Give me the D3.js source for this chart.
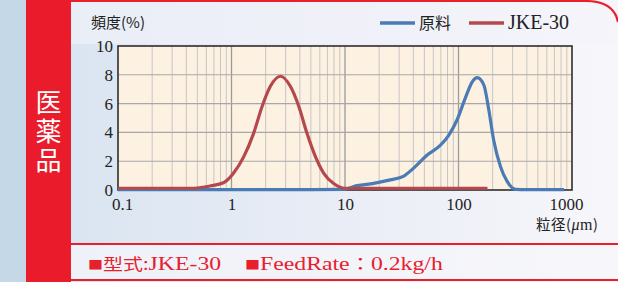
<!DOCTYPE html>
<html>
<head>
<meta charset="utf-8">
<script src="https://cdn.jsdelivr.net/npm/d3@7"></script>
<style>
html,body{margin:0;padding:0;background:#fff;}
svg{display:block;}
</style>
</head>
<body>
<svg id="chart" width="618" height="282"></svg>
<script>
// data (size in um, frequency in %)
var rawX   = [0.1, 0.5, 1, 5, 9.8, 12.8, 17.9, 25, 33, 40, 53, 69, 82, 97, 115, 132, 146, 167, 185, 204, 235, 269, 318, 400, 850];
var rawY   = [0.03, 0.03, 0.03, 0.03, 0.05, 0.3, 0.46, 0.7, 0.97, 1.5, 2.43, 3.1, 3.8, 4.86, 6.4, 7.5, 7.8, 7.3, 5.56, 3.47, 1.6, 0.58, 0.05, 0.03, 0.03];
var jkeX   = [0.1, 0.3, 0.435, 0.65, 0.85, 1.04, 1.28, 1.56, 1.86, 2.2, 2.7, 3.3, 3.92, 4.64, 5.5, 6.5, 7.95, 10, 20, 60, 180];
var jkeY   = [0.12, 0.12, 0.12, 0.28, 0.5, 1.16, 2.3, 3.9, 5.8, 7.2, 7.9, 7.2, 5.8, 3.9, 2.3, 1.16, 0.45, 0.12, 0.12, 0.12, 0.12];
var xTicks = [0.1, 1, 10, 100, 1000];
var yTicks = [0, 2, 4, 6, 8, 10];
var seriesNames = ["原料", "JKE-30"];
var seriesColors = ["#4a7bb4", "#b5484c"];

var svg = d3.select("#chart");
var W = 618, H = 282;
var serif = "'Liberation Serif','DejaVu Serif',serif";
var cjk = "'Noto Sans CJK JP','Noto Sans CJK SC',sans-serif";

var defs = svg.append("defs");
var g1 = defs.append("linearGradient").attr("id","bg").attr("x1","0").attr("x2","1").attr("y1","0").attr("y2","0");
g1.append("stop").attr("offset","0").attr("stop-color","#dae5f1");
g1.append("stop").attr("offset","0.5").attr("stop-color","#eaedf6");
g1.append("stop").attr("offset","1").attr("stop-color","#f7f7fb");
var g2 = defs.append("linearGradient").attr("id","side").attr("x1","0").attr("x2","1").attr("y1","0").attr("y2","0");
g2.append("stop").attr("offset","0").attr("stop-color","#c4d8e7");
g2.append("stop").attr("offset","1").attr("stop-color","#b6cbdc");

// outer background
svg.append("rect").attr("width",W).attr("height",H).attr("fill","url(#side)");
svg.append("rect").attr("x",71).attr("width",W-71).attr("height",H).attr("fill","url(#bg)");
svg.append("rect").attr("x",71).attr("y",2).attr("width",W-71).attr("height",42).attr("fill","#f4f4fa").attr("opacity",0.6);

// red top border with rounded corner
svg.append("path")
  .attr("d","M71,1 L585,1 Q614,1 618,22")
  .attr("fill","none").attr("stroke","#e8202c").attr("stroke-width",2.2);

// red sidebar with vertical label
svg.append("rect").attr("x",26).attr("y",0).attr("width",45).attr("height",H).attr("fill","#ea1c2b");
svg.append("text")
  .attr("x",48.5).attr("y",89)
  .attr("writing-mode","vertical-rl")
  .attr("letter-spacing",3)
  .attr("fill","#fff").attr("font-size",26).attr("font-family",cjk)
  .text("医薬品");

// plot
var m = {l:118, r:572, t:46, b:190};
var x = d3.scaleLog().domain([0.1,1000]).range([m.l,m.r]);
var y = d3.scaleLinear().domain([0,10]).range([m.b,m.t]);

svg.append("rect").attr("x",m.l).attr("y",m.t).attr("width",m.r-m.l).attr("height",m.b-m.t).attr("fill","#fdf1e2");

// grid
var minors = [];
[0.1,1,10,100].forEach(function(d){ for (var k=2;k<=9;k++) minors.push(d*k); });
svg.selectAll("line.vmin").data(minors).enter().append("line")
  .attr("class","vmin")
  .attr("x1",function(d){return x(d);}).attr("x2",function(d){return x(d);})
  .attr("y1",m.t).attr("y2",m.b)
  .attr("stroke","#c6c6c6").attr("stroke-width",1);
svg.selectAll("line.vmaj").data([1,10,100]).enter().append("line")
  .attr("class","vmaj")
  .attr("x1",function(d){return x(d);}).attr("x2",function(d){return x(d);})
  .attr("y1",m.t).attr("y2",m.b)
  .attr("stroke","#9a9a9a").attr("stroke-width",1.3);
svg.selectAll("line.hgrid").data([2,4,6,8]).enter().append("line")
  .attr("class","hgrid")
  .attr("x1",m.l).attr("x2",m.r)
  .attr("y1",function(d){return y(d);}).attr("y2",function(d){return y(d);})
  .attr("stroke","#a8a8a8").attr("stroke-width",1.1);

// frame
svg.append("rect").attr("x",m.l).attr("y",m.t).attr("width",m.r-m.l).attr("height",m.b-m.t)
  .attr("fill","none").attr("stroke","#2e2e2e").attr("stroke-width",1.6);

// axes
var xAxis = svg.append("g").attr("transform","translate(0,"+m.b+")")
  .call(d3.axisBottom(x).tickValues(xTicks).tickSize(0).tickPadding(8).tickFormat(function(d){ return String(d); }));
xAxis.select(".domain").remove();
xAxis.selectAll("text").attr("font-family",serif).attr("font-size",17).attr("fill","#222")
  .attr("dx",function(d){ return d==0.1 ? 4 : (d==1000 ? -6 : 0); });

var yAxis = svg.append("g").attr("transform","translate("+m.l+",0)")
  .call(d3.axisLeft(y).tickValues(yTicks).tickSize(0).tickPadding(5));
yAxis.select(".domain").remove();
yAxis.selectAll("text").attr("font-family",serif).attr("font-size",17).attr("fill","#222");

// lines
var line = d3.line().x(function(d){return x(d[0]);}).y(function(d){return y(d[1]);}).curve(d3.curveMonotoneX);
var series = [d3.zip(rawX, rawY), d3.zip(jkeX, jkeY)];
svg.selectAll("path.series").data(series).enter().append("path")
  .attr("class","series")
  .attr("d",line)
  .attr("fill","none")
  .attr("stroke",function(d,i){return seriesColors[i];})
  .attr("stroke-width",3.2)
  .attr("stroke-linejoin","round");

// axis titles
svg.append("text").attr("x",91).attr("y",28).attr("font-family",cjk).attr("font-size",15).attr("fill","#222").text("頻度(%)");
var xt = svg.append("text").attr("x",536).attr("y",230).attr("font-family",cjk).attr("font-size",14.5).attr("fill","#222").attr("letter-spacing",0.5);
xt.append("tspan").text("粒径(");
xt.append("tspan").attr("font-family",serif).attr("font-style","italic").attr("font-size",16).text("μ");
xt.append("tspan").attr("font-family",serif).attr("font-size",16).text("m");
xt.append("tspan").text(")");

// legend
var legX = [380, 469];
var lg = svg.selectAll("g.leg").data(seriesNames).enter().append("g").attr("class","leg")
  .attr("transform",function(d,i){ return "translate("+legX[i]+",23)"; });
lg.append("line").attr("x1",0).attr("x2",35).attr("y1",0).attr("y2",0)
  .attr("stroke",function(d,i){return seriesColors[i];}).attr("stroke-width",3.5);
lg.append("text").attr("x",39).attr("y",6).attr("fill","#222")
  .attr("font-size",function(d,i){ return i==0 ? 16 : 20; })
  .attr("font-family",function(d,i){ return i==0 ? cjk : serif; })
  .text(function(d){return d;});

// bottom info strip
svg.append("rect").attr("x",71).attr("y",245).attr("width",W-71).attr("height",34).attr("fill","#f6f6fb").attr("opacity",0.7);
svg.append("line").attr("x1",71).attr("x2",W).attr("y1",244).attr("y2",244).attr("stroke","#e8202c").attr("stroke-width",2);
svg.append("line").attr("x1",71).attr("x2",W).attr("y1",280).attr("y2",280).attr("stroke","#e8202c").attr("stroke-width",2);

// the info text is drawn a bit wide, like the original typeface
var infoG = svg.append("g").attr("transform","translate(88,270) scale(1.25,1)");
var info = infoG.append("text").attr("x",0).attr("y",0).attr("fill","#e8202c").attr("font-size",19);
info.append("tspan").attr("font-family",cjk).attr("font-size",12).text("■");
info.append("tspan").attr("font-family",cjk).attr("font-size",16).text("型式:");
info.append("tspan").attr("font-family",serif).text("JKE-30");
info.append("tspan").attr("x",125.6).attr("font-family",cjk).attr("font-size",12).text("■");
info.append("tspan").attr("font-family",serif).text("FeedRate");
info.append("tspan").attr("font-family",cjk).attr("font-size",17).text("：");
info.append("tspan").attr("font-family",serif).text("0.2kg/h");
</script>
</body>
</html>
